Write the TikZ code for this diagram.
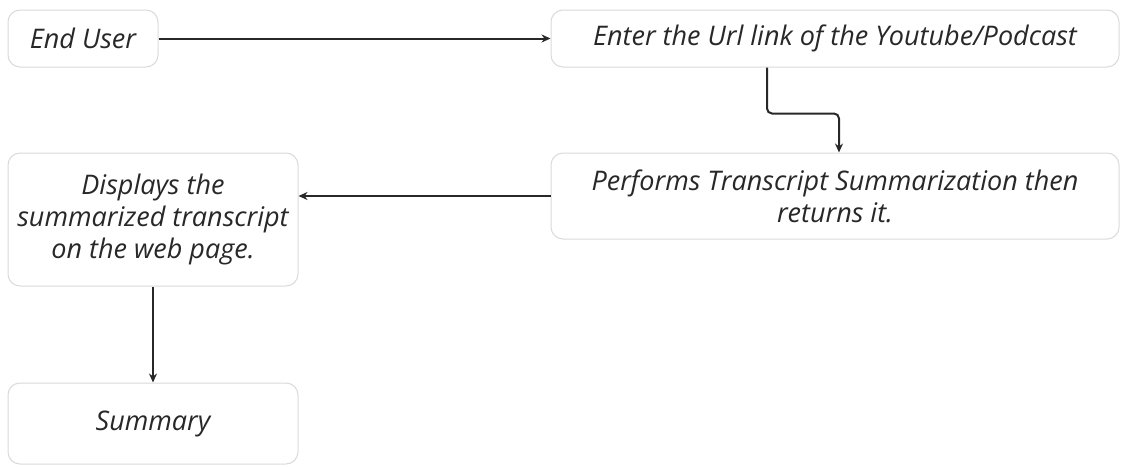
\documentclass[tikz,border=0pt]{standalone}
\usepackage{fontspec}
\setmainfont{Open Sans}
\usepackage{tikz}
\usetikzlibrary{arrows.meta}
\definecolor{boxline}{RGB}{218,218,218}
\definecolor{inkgray}{RGB}{40,40,40}

\begin{document}
\begin{tikzpicture}[x=1pt, y=-1pt,
        stepbox/.style={draw=boxline, line width=1pt, rounded corners=12pt, fill=white,
                text=inkgray, font=\fontsize{27}{32}\selectfont\itshape, align=center,
                inner sep=0pt},
        flow/.style={draw=inkgray, line width=2pt, -{Stealth[length=9pt, width=8pt]}}]
            % Fix the page size
            \useasboundingbox (0,0) rectangle (1121,466);

            % Draw the boxes
            \node[stepbox, minimum width=150pt, minimum height=57pt] (user) at (83,38.5) {End User};
            \node[stepbox, minimum width=568pt, minimum height=57pt] (url) at (835,38.5)
                {Enter the Url link of the Youtube/Podcast};
            \node[stepbox, minimum width=568pt, minimum height=86pt] (perform) at (835,196)
                {Performs Transcript Summarization then\\returns it.};
            \node[stepbox, minimum width=290pt, minimum height=133pt] (display) at (153,219.5)
                {Displays the\\summarized transcript\\on the web page.};
            \node[stepbox, minimum width=290pt, minimum height=81pt] (summary) at (153,423.5) {Summary};

            % Draw the arrows
            \draw[flow] (user.east) -- (url.west);
            \draw[flow, rounded corners=5pt] ([xshift=-68pt]url.south) -- ++(0,46) -| ([xshift=4pt]perform.north);
            \draw[flow] (perform.west) -- (perform.west -| display.east);
            \draw[flow] (display.south) -- (summary.north);

        \end{tikzpicture}
\end{document}
